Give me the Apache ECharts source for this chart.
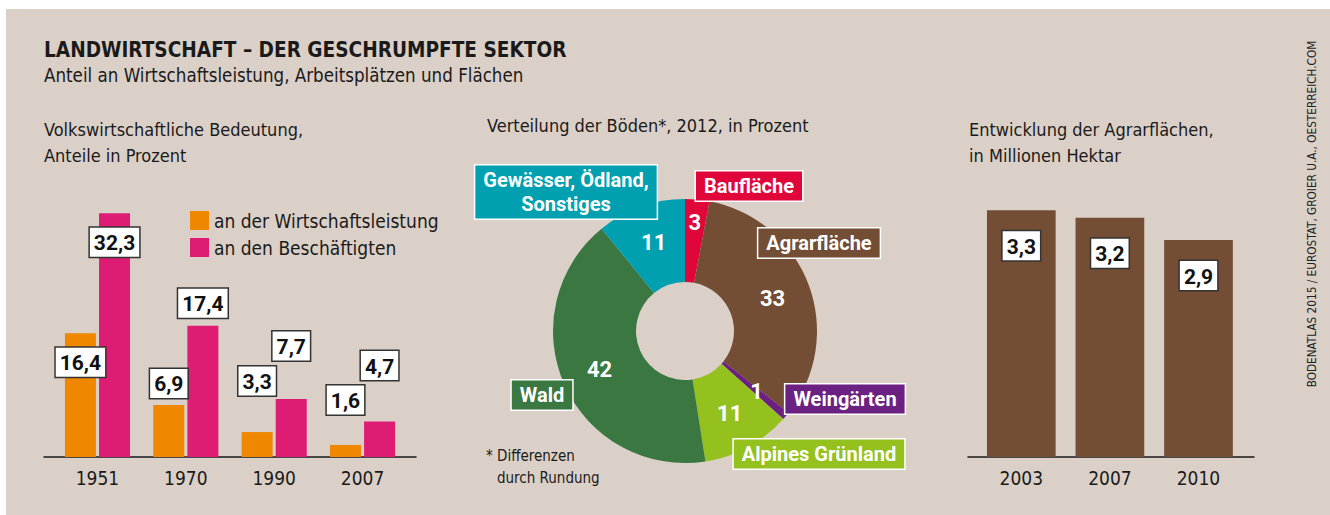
<!DOCTYPE html>
<html>
<head>
<meta charset="utf-8">
<script src="https://cdn.jsdelivr.net/npm/echarts@6/dist/echarts.min.js"></script>
<style>
  html, body { margin: 0; padding: 0; background: #fff; }
  #main {
    width: 1330px; height: 515px;
    background:
      linear-gradient(#fff, #fff) top left / 100% 9px no-repeat,
      linear-gradient(#fff, #fff) top left / 6px 100% no-repeat,
      #dbd0c8;
  }
</style>
</head>
<body>
<div id="main"></div>
<script>
// Volkswirtschaftliche Bedeutung
const years1 = ['1951', '1970', '1990', '2007'];
const wirtschaft = [16.4, 6.9, 3.3, 1.6];
const beschaeftigte = [32.3, 17.4, 7.7, 4.7];

// Verteilung der Böden
const bodenNames = ['Baufläche', 'Agrarfläche', 'Weingärten', 'Alpines Grünland', 'Wald', 'Gewässer, Ödland,\nSonstiges'];
const bodenValues = [3, 33, 1, 11, 42, 11];

// Agrarflächen
const years3 = ['2003', '2007', '2010'];
const agrar = [3.3, 3.2, 2.9];

const FONT = '"DejaVu Sans Condensed", "Roboto", sans-serif';
const BOLD = 'Roboto, "Liberation Sans", sans-serif';
const INK = '#1a1a1a';
const bodenColors = ['#e1063a', '#734e34', '#6b2182', '#95c11f', '#3a7741', '#00a0b0'];
// label box centres for the donut names
const boxPos = [[749, 186], [819, 243], [845, 399], [819, 454], [542, 395], [566, 192]];
// vertical shift of the value boxes in the left chart
const wOff = [43.5, -7, -36.5, -30.5];
const bOff = [43.5, -8, -38.5, -41.5];

const comma = p => String(p.value).replace('.', ',');
const boxLabel = {
  show: true, fontFamily: BOLD, fontSize: 21, fontWeight: 'bold', color: '#111',
  backgroundColor: '#fff', borderColor: '#333', borderWidth: 1.5,
  padding: [5, 4, 3, 4], formatter: comma
};
const txt = (size, bold) => ({ fontFamily: FONT, fontSize: size, fontWeight: bold ? 'bold' : 'normal', color: INK });

let myChart = echarts.init(document.getElementById('main'), null, { renderer: 'svg' });

const option = {
  backgroundColor: 'transparent',
  animation: false,
  title: [
    { text: 'LANDWIRTSCHAFT – DER GESCHRUMPFTE SEKTOR', left: 44, top: 39, padding: 0, textStyle: txt(20.6, true) },
    { text: 'Anteil an Wirtschaftsleistung, Arbeitsplätzen und Flächen', left: 44, top: 66, padding: 0, textStyle: txt(18.6) },
    { text: 'Volkswirtschaftliche Bedeutung,\nAnteile in Prozent', left: 44, top: 116, padding: 0, textStyle: Object.assign(txt(18), { lineHeight: 26 }) },
    { text: 'Verteilung der Böden*, 2012, in Prozent', left: 487, top: 116, padding: 0, textStyle: txt(18) },
    { text: 'Entwicklung der Agrarflächen,\nin Millionen Hektar', left: 969, top: 116, padding: 0, textStyle: Object.assign(txt(18), { lineHeight: 26 }) },
    { text: '* Differenzen', left: 486, top: 448, padding: 0, textStyle: txt(15) },
    { text: 'durch Rundung', left: 497, top: 470, padding: 0, textStyle: txt(15) }
  ],
  graphic: [{
    type: 'text', x: 1312, y: 214, rotation: Math.PI / 2,
    style: {
      text: 'BODENATLAS 2015 / EUROSTAT, GROIER U.A., OESTERREICH.COM',
      fontFamily: FONT, fontSize: 11.7, fill: '#222', align: 'center', verticalAlign: 'middle'
    }
  }],
  legend: {
    data: ['an der Wirtschaftsleistung', 'an den Beschäftigten'],
    left: 190, top: 211, orient: 'vertical', padding: 0,
    itemWidth: 19, itemHeight: 19, itemGap: 8, icon: 'rect',
    textStyle: txt(19)
  },
  grid: [
    { left: 44, width: 372, top: 200.5, height: 256.5 },
    { left: 53.3, width: 353.4, top: 200.5, height: 256.5 },
    { left: 968, width: 286, top: 195.2, height: 261.8 },
    { left: 977, width: 265.8, top: 195.2, height: 261.8 }
  ],
  xAxis: [
    { gridIndex: 0, type: 'category', data: years1, axisLine: { lineStyle: { color: INK, width: 1.5 } }, axisTick: { show: false }, axisLabel: { show: false } },
    { gridIndex: 1, type: 'category', data: years1, axisLine: { show: false }, axisTick: { show: false }, axisLabel: Object.assign(txt(19), { margin: 11 }) },
    { gridIndex: 2, type: 'category', data: years3, axisLine: { lineStyle: { color: INK, width: 1.5 } }, axisTick: { show: false }, axisLabel: { show: false } },
    { gridIndex: 3, type: 'category', data: years3, axisLine: { show: false }, axisTick: { show: false }, axisLabel: Object.assign(txt(19), { margin: 11 }) }
  ],
  yAxis: [
    { gridIndex: 0, type: 'value', show: false },
    { gridIndex: 1, type: 'value', show: false, min: 0, max: 34 },
    { gridIndex: 2, type: 'value', show: false },
    { gridIndex: 3, type: 'value', show: false, min: 0, max: 3.5 }
  ],
  series: [
    {
      name: 'an der Wirtschaftsleistung', type: 'bar', xAxisIndex: 1, yAxisIndex: 1,
      barWidth: 31, barGap: '10%', itemStyle: { color: '#ef8700' },
      label: Object.assign({}, boxLabel, { position: 'top', distance: 0 }),
      data: wirtschaft.map((v, i) => ({ value: v, label: { offset: [0, wOff[i]] } }))
    },
    {
      name: 'an den Beschäftigten', type: 'bar', xAxisIndex: 1, yAxisIndex: 1,
      barWidth: 31, barGap: '10%', itemStyle: { color: '#df1c74' },
      label: Object.assign({}, boxLabel, { position: 'top', distance: 0 }),
      data: beschaeftigte.map((v, i) => ({ value: v, label: { offset: [0, bOff[i]] } }))
    },
    {
      name: 'Agrarfläche', type: 'bar', xAxisIndex: 3, yAxisIndex: 3,
      barWidth: 68.7, itemStyle: { color: '#734e34' },
      label: Object.assign({}, boxLabel, { position: 'insideTop', distance: 21 }),
      data: agrar
    },
    {
      name: 'Böden', type: 'pie', center: [685, 331], radius: [49, 132],
      startAngle: 90, clockwise: true, silent: true, avoidLabelOverlap: false,
      label: { position: 'inside', formatter: '{c}', color: '#fff', fontFamily: BOLD, fontSize: 22, fontWeight: 'bold' },
      labelLine: { show: false },
      data: bodenNames.map((n, i) => ({
        name: n, value: bodenValues[i], itemStyle: { color: bodenColors[i] },
        label: i === 0 ? { offset: [1, -15] } : {}
      }))
    },
    {
      name: 'BödenNamen', type: 'pie', center: [685, 331], radius: [49, 132],
      startAngle: 90, clockwise: true, silent: true, avoidLabelOverlap: false,
      itemStyle: { color: 'rgba(0,0,0,0)' },
      label: {
        position: 'outside', formatter: '{b}', color: '#fff', fontFamily: BOLD, fontSize: 20,
        fontWeight: 'bold', lineHeight: 24, align: 'center',
        borderColor: '#fff', borderWidth: 1.5, padding: [3, 8, 2, 8]
      },
      labelLine: { show: false },
      labelLayout: p => ({ x: boxPos[p.dataIndex][0], y: boxPos[p.dataIndex][1], align: 'center', verticalAlign: 'middle' }),
      data: bodenNames.map((n, i) => ({ name: n, value: bodenValues[i], label: { backgroundColor: bodenColors[i] } }))
    }
  ]
};
myChart.setOption(option);
</script>
</body>
</html>
